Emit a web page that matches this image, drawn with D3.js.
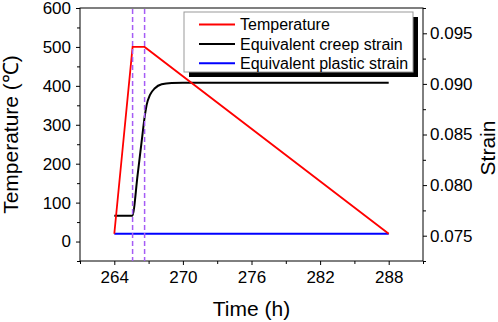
<!DOCTYPE html>
<html>
<head>
<meta charset="utf-8">
<script src="https://cdn.jsdelivr.net/npm/d3@7"></script>
<style>
  body { margin: 0; background: #fff; }
  svg { display: block; font-family: Arial, "Liberation Sans", sans-serif; }
</style>
</head>
<body>
<svg id="chart" width="498" height="322"></svg>
<script>
// data
const timeTicks = [264, 270, 276, 282, 288];
const tempTicks = [0, 100, 200, 300, 400, 500, 600];
const strainTicks = [0.075, 0.08, 0.085, 0.09, 0.095];

const tempTime = [264, 265.6, 266.65, 288];
const tempVals = [20, 500, 500, 20];

const creepTime = [264, 265.57, 266.04, 266.39, 266.68, 266.83, 267.12, 267.55, 268.14, 269.01, 270, 288];
const creepVals = [0.07697, 0.07697, 0.08102, 0.0843, 0.08694, 0.08793, 0.08891, 0.08957, 0.08997, 0.0901, 0.09012, 0.09012];

const plasticTime = [264, 288];
const plasticVals = [0.0752, 0.0752];

const markerTimes = [265.6, 266.65];

const legendItems = [
  { name: "Temperature", color: "#ff0000" },
  { name: "Equivalent creep strain", color: "#000000" },
  { name: "Equivalent plastic strain", color: "#0000ff" }
];

const W = 498, H = 322;
const margin = { top: 8, right: 75, bottom: 61, left: 80 };

const svg = d3.select("#chart");

const x = d3.scaleLinear().domain([261, 291]).range([margin.left, W - margin.right]);
const yT = d3.scaleLinear().domain([-50, 600]).range([H - margin.bottom, margin.top]);
const yS = d3.scaleLinear().domain([0.0725, 0.0975]).range([H - margin.bottom, margin.top]);

const tickFont = "17px";

// minor ticks
const xMinor = d3.range(261, 292, 3).filter(v => !timeTicks.includes(v));
const tMinor = d3.range(-50, 601, 50).filter(v => !tempTicks.includes(v));
const sMinor = d3.range(0.0725, 0.0976, 0.0025).filter(v => !strainTicks.some(t => Math.abs(t - v) < 1e-6));

function styleAxis(g) {
  g.select(".domain").remove();
  g.selectAll("line").attr("stroke", "#000").attr("stroke-width", 1);
  g.selectAll("text").attr("font-size", tickFont).attr("fill", "#000");
}

// bottom axis
svg.append("g")
  .attr("transform", `translate(0,${H - margin.bottom})`)
  .call(d3.axisBottom(x).tickValues(timeTicks).tickSize(4).tickPadding(6).tickFormat(d3.format("d")))
  .call(styleAxis);
svg.append("g")
  .attr("transform", `translate(0,${H - margin.bottom})`)
  .call(d3.axisBottom(x).tickValues(xMinor).tickSize(3).tickFormat(""))
  .call(styleAxis);

// left axis
svg.append("g")
  .attr("transform", `translate(${margin.left},0)`)
  .call(d3.axisLeft(yT).tickValues(tempTicks).tickSize(4).tickPadding(5).tickFormat(d3.format("d")))
  .call(styleAxis);
svg.append("g")
  .attr("transform", `translate(${margin.left},0)`)
  .call(d3.axisLeft(yT).tickValues(tMinor).tickSize(3).tickFormat(""))
  .call(styleAxis);

// right axis
svg.append("g")
  .attr("transform", `translate(${W - margin.right},0)`)
  .call(d3.axisRight(yS).tickValues(strainTicks).tickSize(4).tickPadding(3).tickFormat(d3.format(".3f")))
  .call(styleAxis);
svg.append("g")
  .attr("transform", `translate(${W - margin.right},0)`)
  .call(d3.axisRight(yS).tickValues(sMinor).tickSize(3).tickFormat(""))
  .call(styleAxis);

// frame
svg.append("rect")
  .attr("x", margin.left).attr("y", margin.top)
  .attr("width", W - margin.left - margin.right)
  .attr("height", H - margin.top - margin.bottom)
  .attr("fill", "none").attr("stroke", "#000").attr("stroke-width", 1);

// series
const plasticLine = d3.line().x((d, i) => x(plasticTime[i])).y(d => yS(d));
svg.append("path")
  .datum(plasticVals)
  .attr("d", plasticLine)
  .attr("fill", "none").attr("stroke", "#0000ff").attr("stroke-width", 2);

const creepLine = d3.line().x((d, i) => x(creepTime[i])).y(d => yS(d)).curve(d3.curveMonotoneX);
svg.append("path")
  .datum(creepVals)
  .attr("d", creepLine)
  .attr("fill", "none").attr("stroke", "#000").attr("stroke-width", 2);

const tempLine = d3.line().x((d, i) => x(tempTime[i])).y(d => yT(d));
svg.append("path")
  .datum(tempVals)
  .attr("d", tempLine)
  .attr("fill", "none").attr("stroke", "#ff0000").attr("stroke-width", 1.8);

// dashed markers
svg.selectAll(".marker")
  .data(markerTimes)
  .enter()
  .append("line")
  .attr("class", "marker")
  .attr("x1", d => x(d)).attr("x2", d => x(d))
  .attr("y1", margin.top + 1).attr("y2", H - margin.bottom)
  .attr("stroke", "#a55cf5").attr("stroke-width", 1.5)
  .attr("stroke-dasharray", "5,3");

// legend
const lg = svg.append("g").attr("transform", "translate(184,12)");
const lgW = 229, lgH = 60;
lg.append("rect").attr("x", 5).attr("y", 5).attr("width", lgW).attr("height", lgH).attr("fill", "#000");
lg.append("rect").attr("x", 0).attr("y", 0).attr("width", lgW).attr("height", lgH)
  .attr("fill", "#fff").attr("stroke", "#999").attr("stroke-width", 1);

legendItems.forEach((it, i) => {
  const yy = 12.5 + i * 19.4;
  lg.append("line").attr("x1", 15).attr("x2", 51).attr("y1", yy).attr("y2", yy)
    .attr("stroke", it.color).attr("stroke-width", 2);
  lg.append("text").attr("x", 56).attr("y", yy).attr("dy", "0.35em")
    .attr("font-size", "16px").attr("fill", "#000").text(it.name);
});

// axis titles
svg.append("text")
  .attr("x", (margin.left + W - margin.right) / 2).attr("y", 316)
  .attr("text-anchor", "middle").attr("font-size", "21px").text("Time (h)");

svg.append("text")
  .attr("transform", `translate(18,${(margin.top + H - margin.bottom) / 2}) rotate(-90)`)
  .attr("text-anchor", "middle").attr("font-size", "21px").text("Temperature (℃)");

svg.append("text")
  .attr("transform", `translate(495,148) rotate(-90)`)
  .attr("text-anchor", "middle").attr("font-size", "21px").text("Strain");
</script>
</body>
</html>
